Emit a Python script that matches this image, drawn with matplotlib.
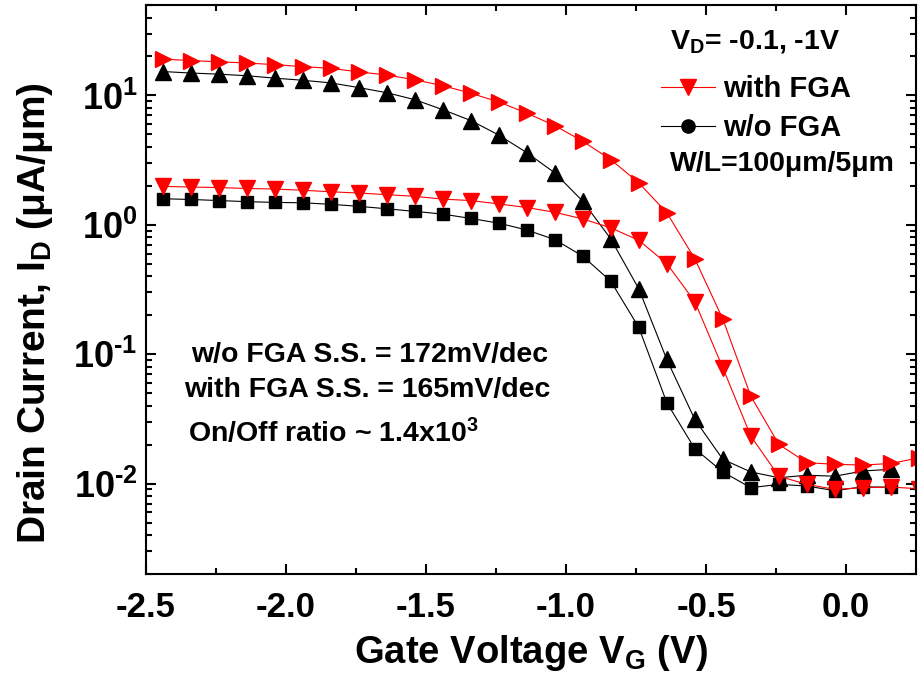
import matplotlib
matplotlib.use("Agg")
import matplotlib.pyplot as plt
from matplotlib.lines import Line2D
from matplotlib.ticker import LogLocator, NullFormatter, MultipleLocator

plt.rcParams["font.family"] = ["Liberation Sans", "DejaVu Sans"]
plt.rcParams["font.weight"] = "bold"
plt.rcParams["mathtext.fontset"] = "custom"
plt.rcParams["mathtext.bf"] = "Liberation Sans:bold"
plt.rcParams["mathtext.rm"] = "Liberation Sans:bold"
plt.rcParams["mathtext.it"] = "Liberation Sans:bold"
plt.rcParams["mathtext.default"] = "bf"
plt.rcParams["axes.unicode_minus"] = False

# gate voltage of the plotted markers (V)
vg_28 = [-2.44, -2.34, -2.24, -2.14, -2.04, -1.94, -1.84, -1.74, -1.64, -1.54,
         -1.44, -1.34, -1.24, -1.14, -1.04, -0.94, -0.84, -0.74, -0.64, -0.54,
         -0.44, -0.34, -0.24, -0.14, -0.04, 0.06, 0.16, 0.26]
vg_27 = vg_28[:27]

# drain current (uA/um)
fga_vd1 = [19.1, 18.6, 18.2, 17.8, 17.3, 16.7, 16.2, 15.2, 14.4, 13.2,
           11.9, 10.4, 8.9, 7.3, 5.84, 4.42, 3.19, 2.11, 1.24, 0.546,
           0.187, 0.0474, 0.0201, 0.0145, 0.0141, 0.0139, 0.0143, 0.0158]
fga_vd01 = [1.98, 1.96, 1.94, 1.91, 1.89, 1.85, 1.80, 1.76, 1.71, 1.66,
            1.58, 1.54, 1.45, 1.36, 1.25, 1.11, 0.947, 0.759, 0.501, 0.255,
            0.0785, 0.0233, 0.0114, 0.00986, 0.00902, 0.00929, 0.00939, 0.00913]
nofga_vd1 = [15.3, 14.9, 14.6, 14.2, 13.6, 13.1, 12.5, 11.5, 10.5, 9.27,
             7.76, 6.40, 4.94, 3.61, 2.52, 1.52, 0.778, 0.320, 0.0910, 0.0313,
             0.0154, 0.0123, 0.0111, 0.0116, 0.0114, 0.0125, 0.0129]
nofga_vd01 = [1.59, 1.57, 1.54, 1.51, 1.49, 1.48, 1.44, 1.39, 1.33, 1.27,
              1.21, 1.12, 1.03, 0.912, 0.769, 0.572, 0.366, 0.161, 0.0422, 0.0186,
              0.0123, 0.00929, 0.00986, 0.00957, 0.00881, 0.00944, 0.00936]

xticks = [-2.5, -2.0, -1.5, -1.0, -0.5, 0.0]
xtick_labels = ["-2.5", "-2.0", "-1.5", "-1.0", "-0.5", "0.0"]
yticks = [1e-2, 1e-1, 1e0, 1e1]
ytick_labels = [r"$10^{\text{-2}}$", r"$10^{\text{-1}}$", r"$10^{0}$", r"$10^{1}$"]

fig = plt.figure(figsize=(9.18, 6.86), dpi=100)
ax = fig.add_axes([146 / 918, 1 - 574 / 686, 770 / 918, 569 / 686])

ax.plot(vg_27, nofga_vd1, color="black", lw=0.8, marker="^", ms=11.5)
ax.plot(vg_27, nofga_vd01, color="black", lw=0.8, marker="s", ms=8.6)
ax.plot(vg_28, fga_vd1, color="red", lw=0.8, marker=">", ms=11.5)
ax.plot(vg_28, fga_vd01, color="red", lw=0.8, marker="v", ms=11.5)

ax.set_yscale("log")
ax.set_xlim(-2.5, 0.25)
ax.set_ylim(0.002, 50)

ax.set_xticks(xticks, xtick_labels)
ax.xaxis.set_minor_locator(MultipleLocator(0.25))
ax.set_yticks(yticks, ytick_labels)
ax.yaxis.set_minor_locator(LogLocator(base=10, subs=range(2, 10)))
ax.yaxis.set_minor_formatter(NullFormatter())

ax.tick_params(which="both", direction="in", top=True, right=True, width=1.5)
ax.tick_params(which="major", length=7.5)
ax.tick_params(which="minor", length=4)
ax.tick_params(axis="x", labelsize=25, pad=12)
ax.tick_params(axis="y", labelsize=26, pad=6)
for s in ax.spines.values():
    s.set_linewidth(1.5)

ax.set_xlabel(r"Gate Voltage V$_{G}$ (V)", fontsize=27.5, fontweight="bold")
ax.xaxis.set_label_coords(0.5, -0.103)
ax.set_ylabel(r"Drain Current, I$_{D}$ (μA/μm)", fontsize=28, fontweight="bold")
ax.yaxis.set_label_coords(-0.118, 0.459)

handles = [Line2D([], [], color="red", lw=0.8, marker="v", ms=11.5),
           Line2D([], [], color="black", lw=0.8, marker="o", ms=9.5)]
ax.legend(handles, ["with FGA", "w/o FGA"], loc="upper left",
          bbox_to_anchor=(0.6535, 0.897), frameon=False, fontsize=21,
          handlelength=1.85, handletextpad=0.27, labelspacing=0.38,
          borderaxespad=0)

ax.text(0.681, 0.924, r"V$_{D}$= -0.1, -1V", transform=ax.transAxes,
        fontsize=20.5, ha="left", va="baseline")
ax.text(0.681, 0.708, "W/L=100μm/5μm", transform=ax.transAxes,
        fontsize=20.5, ha="left", va="baseline")

ax.text(0.291, 0.373, "w/o FGA S.S. = 172mV/dec", transform=ax.transAxes,
        fontsize=20.5, ha="center", va="baseline")
ax.text(0.287, 0.311, "with FGA S.S. = 165mV/dec", transform=ax.transAxes,
        fontsize=20.5, ha="center", va="baseline")
ax.text(0.0545, 0.232, r"On/Off ratio ~ 1.4x10$^{3}$", transform=ax.transAxes,
        fontsize=20.5, ha="left", va="baseline")

fig.savefig("out.png", dpi=100)
